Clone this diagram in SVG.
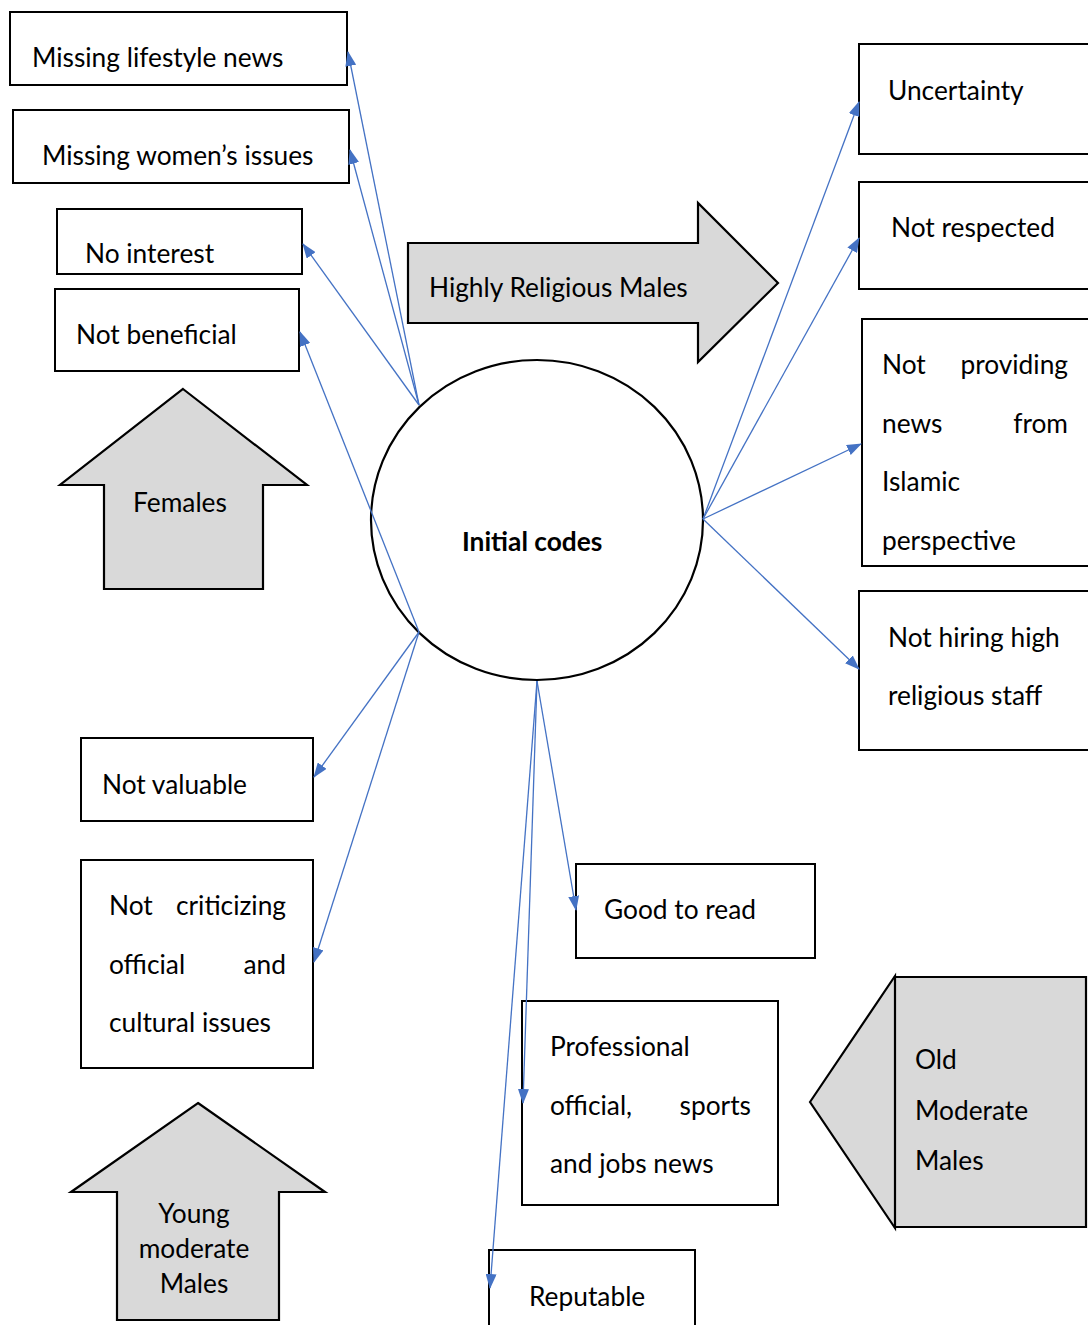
<svg xmlns="http://www.w3.org/2000/svg" width="1088" height="1325" viewBox="0 0 1088 1325">
<style>
.box{fill:#fff;stroke:#000;stroke-width:2}
.shape{fill:#d9d9d9;stroke:#000;stroke-width:2.2;stroke-linejoin:miter}
.t{font-family:Lato,"Liberation Sans",sans-serif;font-size:26.3px;fill:#000}
.c{stroke:#4472c4;stroke-width:1.3;fill:none;marker-end:url(#ah)}
</style>
<defs>
<marker id="ah" markerUnits="userSpaceOnUse" markerWidth="15" markerHeight="11" refX="14" refY="5.5" orient="auto">
<path d="M0,0 L15,5.5 L0,11 z" fill="#4472c4"/>
</marker>
</defs>
<rect width="1088" height="1325" fill="#fff"/>

<g id="center">
<ellipse cx="537" cy="520" rx="166" ry="160" fill="#fff" stroke="#000" stroke-width="2.2"/>
<text class="t" x="462" y="551" font-weight="bold">Initial codes</text>
</g>

<g id="n-lifestyle"><rect class="box" x="10" y="12" width="337" height="73"/><text class="t" x="32" y="67">Missing lifestyle news</text></g>
<g id="n-women"><rect class="box" x="13" y="110" width="336" height="73"/><text class="t" x="42" y="165">Missing women’s issues</text></g>
<g id="n-nointerest"><rect class="box" x="57" y="209" width="245" height="65"/><text class="t" x="85" y="263">No interest</text></g>
<g id="n-notbeneficial"><rect class="box" x="55" y="289" width="244" height="82"/><text class="t" x="76" y="344">Not beneficial</text></g>

<g id="n-females"><path class="shape" d="M183,389 L307,485 L263,485 L263,589 L104,589 L104,485 L60,485 Z"/><text class="t" x="180" y="512" text-anchor="middle">Females</text></g>

<g id="n-religious"><path class="shape" d="M408,243 L698,243 L698,203 L778,283 L698,362 L698,323 L408,323 Z"/><text class="t" x="429" y="297">Highly Religious Males</text></g>

<g id="n-uncertainty"><rect class="box" x="859" y="44" width="240" height="110"/><text class="t" x="888" y="100">Uncertainty</text></g>
<g id="n-notrespected"><rect class="box" x="859" y="182" width="240" height="107"/><text class="t" x="891" y="237">Not respected</text></g>
<g id="n-islamic"><rect class="box" x="862" y="319" width="240" height="247"/>
<text class="t" x="882" y="374">Not</text><text class="t" x="1068" y="374" text-anchor="end">providing</text>
<text class="t" x="882" y="433">news</text><text class="t" x="1068" y="433" text-anchor="end">from</text>
<text class="t" x="882" y="491">Islamic</text>
<text class="t" x="882" y="550">perspective</text></g>
<g id="n-hiring"><rect class="box" x="859" y="591" width="240" height="159"/><text class="t" x="888" y="647">Not hiring high</text><text class="t" x="888" y="705">religious staff</text></g>

<g id="n-notvaluable"><rect class="box" x="81" y="738" width="232" height="83"/><text class="t" x="102" y="794">Not valuable</text></g>
<g id="n-criticizing"><rect class="box" x="81" y="860" width="232" height="208"/>
<text class="t" x="109" y="915">Not</text><text class="t" x="286" y="915" text-anchor="end">criticizing</text>
<text class="t" x="109" y="974">official</text><text class="t" x="286" y="974" text-anchor="end">and</text>
<text class="t" x="109" y="1032">cultural issues</text></g>

<g id="n-young"><path class="shape" d="M198,1103 L325,1192 L279,1192 L279,1320 L117,1320 L117,1192 L71,1192 Z"/>
<text class="t" x="194" y="1223" text-anchor="middle">Young</text>
<text class="t" x="194" y="1258" text-anchor="middle">moderate</text>
<text class="t" x="194" y="1293" text-anchor="middle">Males</text></g>

<g id="n-goodread"><rect class="box" x="576" y="864" width="239" height="94"/><text class="t" x="604" y="919">Good to read</text></g>
<g id="n-professional"><rect class="box" x="522" y="1001" width="256" height="204"/>
<text class="t" x="550" y="1056">Professional</text>
<text class="t" x="550" y="1115">official,</text><text class="t" x="751" y="1115" text-anchor="end">sports</text>
<text class="t" x="550" y="1173">and jobs news</text></g>

<g id="n-old"><path class="shape" d="M810,1102 L895,976 L895,977 L1086,977 L1086,1227 L895,1227 L895,1228 Z"/><line x1="895" y1="976" x2="895" y2="1228" stroke="#000" stroke-width="2.2"/>
<text class="t" x="915" y="1069">Old</text>
<text class="t" x="915" y="1120">Moderate</text>
<text class="t" x="915" y="1170">Males</text></g>

<g id="n-reputable"><rect class="box" x="489" y="1250" width="206" height="90"/><text class="t" x="529" y="1306">Reputable</text></g>

<g id="connectors">
<line class="c" x1="419" y1="405" x2="348" y2="52"/>
<line class="c" x1="419" y1="405" x2="350" y2="150"/>
<line class="c" x1="419" y1="405" x2="303" y2="244"/>
<line class="c" x1="419" y1="632" x2="300" y2="332"/>
<line class="c" x1="419" y1="632" x2="314" y2="777"/>
<line class="c" x1="419" y1="632" x2="314" y2="962"/>
<line class="c" x1="703" y1="519" x2="859" y2="102"/>
<line class="c" x1="703" y1="519" x2="859" y2="238"/>
<line class="c" x1="703" y1="519" x2="861" y2="444"/>
<line class="c" x1="703" y1="519" x2="859" y2="669"/>
<line class="c" x1="537" y1="681" x2="576" y2="910"/>
<line class="c" x1="537" y1="681" x2="523" y2="1103"/>
<line class="c" x1="537" y1="681" x2="490" y2="1288"/>
</g>
</svg>
